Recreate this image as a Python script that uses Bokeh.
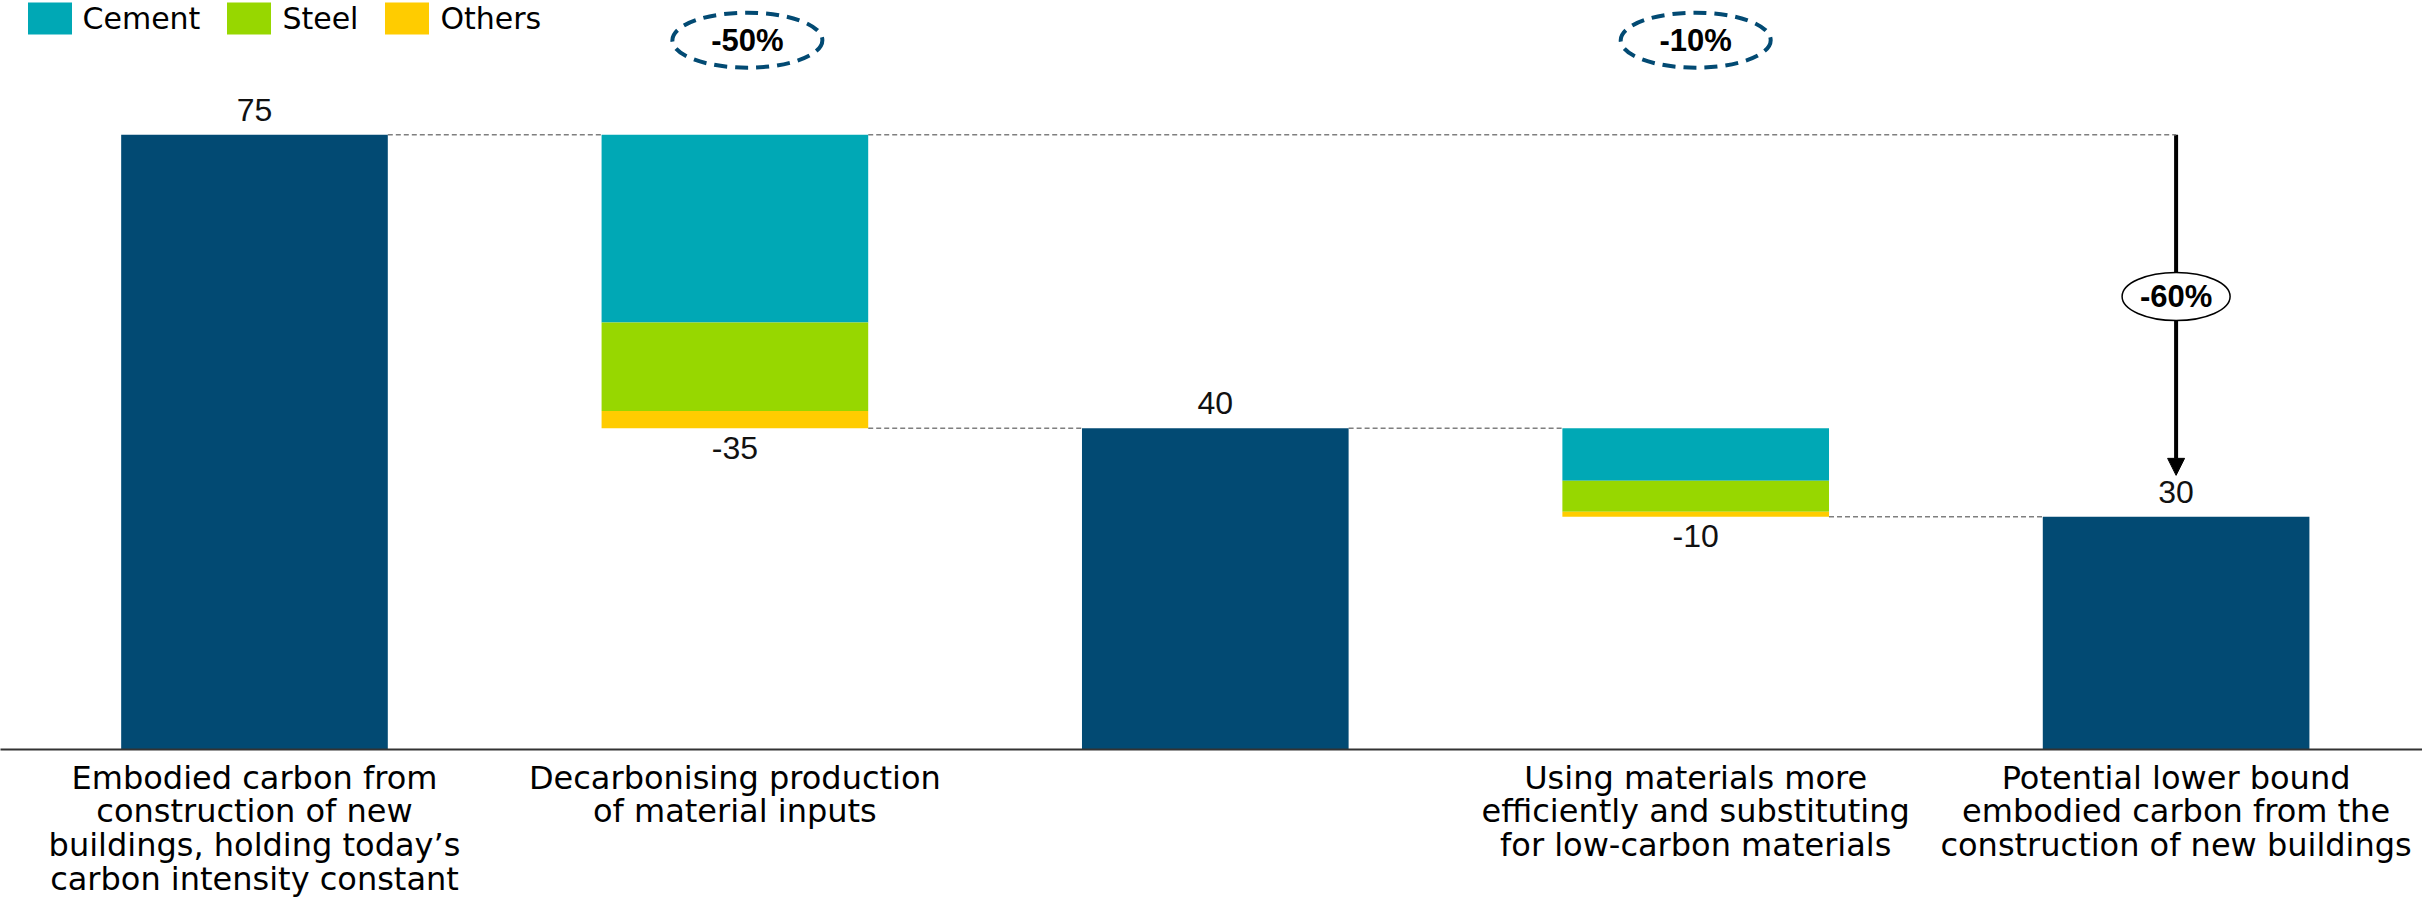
import numpy as np
from bokeh.plotting import figure
from bokeh.models import (ColumnDataSource, Range1d, LinearAxis, FixedTicker,
                          Arrow, NormalHead)
from bokeh.core.properties import value
from bokeh.embed import file_html
from bokeh.resources import INLINE

# ---------------- data ----------------
categories = [
    "Embodied carbon from\nconstruction of new\nbuildings, holding today\u2019s\ncarbon intensity constant",
    "Decarbonising production\nof material inputs",
    "",
    "Using materials more\nefficiently and substituting\nfor low-carbon materials",
    "Potential lower bound\nembodied carbon from the\nconstruction of new buildings",
]
start_total = 75.0
cement = [22.9, 6.4]
steel = [10.8, 3.8]
others = [2.1, 0.6]
series_names = ["Cement", "Steel", "Others"]
value_labels = ["75", "-35", "40", "-10", "30"]
step_pct_labels = ["-50%", "-10%"]
overall_pct_label = "-60%"

# ---------------- styles ----------------
DARK = "#024A73"
COLORS = {"Cement": "#00A8B5", "Steel": "#97D700", "Others": "#FFCC00"}
BW = 0.555

# ---------------- derived table ----------------
cement = np.array(cement)
steel = np.array(steel)
others = np.array(others)
step_sum = cement + steel + others
levels = [start_total]
for s in step_sum:
    levels.append(levels[-1] - s)
levels = np.array(levels)             # totals after each step
total_x = np.array([0, 2, 4])
step_x = np.array([1, 3])

step_top = levels[:-1]
cem_bot = step_top - cement
stl_bot = cem_bot - steel
oth_bot = stl_bot - others

p = figure(width=2422, height=900,
           x_range=Range1d(-0.5287, 4.5129), y_range=Range1d(0, 91.39),
           output_backend="svg", toolbar_location=None,
           x_axis_location=None, y_axis_location=None,
           min_border_left=0, min_border_right=0, min_border_top=0,
           min_border_bottom=146)
p.outline_line_color = None
p.xgrid.visible = False
p.ygrid.visible = False

# connectors (dashed)
hw = BW / 2
seg_x0 = [0 + hw, 1 + hw, 1 + hw, 2 + hw, 3 + hw]
seg_x1 = [1 - hw, 4, 2 - hw, 3 - hw, 4 - hw]
seg_y = [levels[0], levels[0], levels[1], levels[1], levels[2]]
p.segment(x0=seg_x0, x1=seg_x1, y0=seg_y, y1=seg_y,
          line_color="#7F7F7F", line_width=1.5, line_dash="5 3")

# total bars
p.vbar(x=total_x, top=levels, bottom=0, width=BW,
       fill_color=DARK, line_color=None)

# step bars
p.vbar(x=step_x, top=step_top, bottom=cem_bot, width=BW,
       fill_color=COLORS["Cement"], line_color=None, legend_label=series_names[0])
p.vbar(x=step_x, top=cem_bot, bottom=stl_bot, width=BW,
       fill_color=COLORS["Steel"], line_color=None, legend_label=series_names[1])
p.vbar(x=step_x, top=stl_bot, bottom=oth_bot, width=BW,
       fill_color=COLORS["Others"], line_color=None, legend_label=series_names[2])

# value labels
lab_x = [0, 1, 2, 3, 4]
lab_y = [levels[0], levels[1], levels[1], levels[2], levels[2]]
lab_off = [-25, 19.5, -25, 19.5, -25]
p.text(x=lab_x, y=lab_y, text=value_labels, y_offset=lab_off,
       text_align="center", text_baseline="alphabetic",
       text_font=value("Liberation Sans"), text_font_size="32px",
       text_color="#111111")

# dashed ellipses with step percentages
ell_x = step_x + np.array([0.026, 0.0])
ell_y = [86.55, 86.55]
p.ellipse(x=ell_x, y=ell_y, width=150, height=55,
          width_units="screen", height_units="screen",
          fill_color=None, line_color=DARK, line_width=4, line_dash="13 8")
p.text(x=ell_x, y=ell_y, text=step_pct_labels, text_align="center",
       text_baseline="middle", text_font=value("Liberation Sans"),
       text_font_style="bold", text_font_size="31px", text_color="#000000")

# overall arrow
arrow = Arrow(end=NormalHead(size=17, fill_color="black", line_color="black"),
              x_start=4, y_start=levels[0], x_end=4, y_end=levels[-1] + 5.05,
              line_color="black", line_width=4, level="underlay")
p.add_layout(arrow)
p.ellipse(x=[4], y=[55.27], width=108, height=48,
          width_units="screen", height_units="screen",
          fill_color="white", line_color="black", line_width=1.5)
p.text(x=[4], y=[55.27], text=[overall_pct_label], text_align="center",
       text_baseline="middle", text_font=value("Liberation Sans"),
       text_font_style="bold", text_font_size="31px", text_color="#000000")

# x axis with category labels
xaxis = LinearAxis(ticker=FixedTicker(ticks=[0, 1, 2, 3, 4]),
                   major_label_overrides={i: c for i, c in enumerate(categories)})
xaxis.major_tick_line_color = None
xaxis.minor_tick_line_color = None
xaxis.axis_line_color = "#333333"
xaxis.axis_line_width = 2
xaxis.major_label_text_font = "DejaVu Sans"
xaxis.major_label_text_font_size = "32px"
xaxis.major_label_text_color = "#000000"
xaxis.major_label_standoff = 3
xaxis.major_label_text_line_height = 0.89
p.add_layout(xaxis, "below")

# legend
lg = p.legend[0]
lg.orientation = "horizontal"
lg.location = (21.5, 711)
lg.padding = 0
lg.margin = 0
lg.spacing = 21
lg.label_standoff = 6
lg.glyph_width = 55
lg.glyph_height = 40
lg.border_line_alpha = 0
lg.background_fill_alpha = 0
lg.label_text_font = "DejaVu Sans"
lg.label_text_font_size = "30px"
lg.label_text_color = "#000000"

open("out.html", "w").write(file_html(p, INLINE))
